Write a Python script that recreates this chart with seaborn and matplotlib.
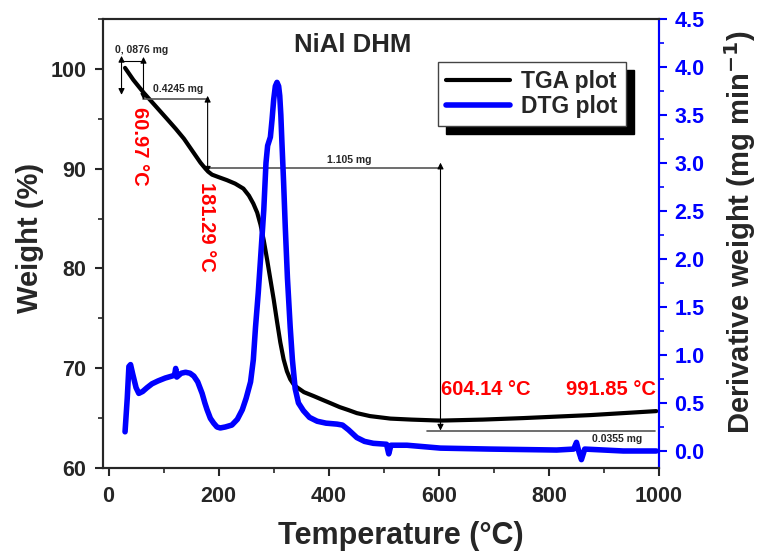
import matplotlib
matplotlib.use("Agg")
import matplotlib.pyplot as plt
import seaborn as sns
import pandas as pd
from matplotlib.ticker import MultipleLocator, FormatStrFormatter
from matplotlib.patches import Rectangle

# TGA curve (weight %)
tga_temp = [30, 45, 64, 85, 106, 122, 137, 152, 167, 176, 181, 188, 200, 215, 230,
            245, 255, 263, 270, 276, 282, 288, 294, 300, 306, 312, 318, 324, 330,
            336, 342, 355, 373, 390, 403, 420, 436, 451, 475, 512, 550, 603, 680,
            753, 875, 995]
tga_weight = [100.1, 98.9, 97.6, 96.3, 95.0, 94.0, 93.0, 91.8, 90.6, 90.0, 89.7,
              89.4, 89.15, 88.85, 88.5, 88.0, 87.3, 86.5, 85.6, 84.4, 82.8, 80.9,
              78.9, 76.9, 74.7, 72.6, 70.9, 69.7, 68.9, 68.4, 68.1, 67.6, 67.2,
              66.8, 66.5, 66.1, 65.8, 65.5, 65.2, 64.95, 64.85, 64.75, 64.85, 65.0,
              65.3, 65.7]

# DTG curve (mg/min)
dtg_temp = [30, 34, 37, 40, 44, 50, 55, 62, 70, 79, 90, 103, 115, 120, 122, 124,
            132, 140, 148, 155, 162, 170, 175, 179, 185, 191, 197, 203, 212, 224,
            234, 243, 250, 258, 263, 267, 272, 276, 282, 286, 289, 294, 297, 300,
            303, 306, 309, 311, 313, 315, 318, 321, 325, 330, 334, 339, 345, 354,
            365, 379, 395, 415, 425, 436, 451, 465, 481, 505, 509, 513, 542, 603,
            693, 814, 845, 850, 855, 859, 865, 935, 995]
dtg_value = [0.20, 0.55, 0.88, 0.90, 0.80, 0.66, 0.60, 0.62, 0.66, 0.70, 0.73,
             0.76, 0.78, 0.79, 0.86, 0.77, 0.81, 0.82, 0.81, 0.78, 0.72, 0.60,
             0.50, 0.43, 0.34, 0.29, 0.25, 0.24, 0.25, 0.27, 0.33, 0.43, 0.55,
             0.72, 0.95, 1.29, 1.65, 1.99, 2.51, 3.00, 3.18, 3.27, 3.45, 3.66,
             3.80, 3.84, 3.80, 3.70, 3.50, 3.21, 2.80, 2.34, 1.80, 1.29, 0.95,
             0.65, 0.50, 0.42, 0.35, 0.31, 0.29, 0.28, 0.27, 0.22, 0.14, 0.10,
             0.08, 0.07, -0.03, 0.06, 0.06, 0.03, 0.02, 0.01, 0.02, 0.09, -0.02,
             -0.09, 0.02, 0.0, 0.0]

sns.set_style("ticks")
plt.rcParams['font.family'] = ['Liberation Sans', 'DejaVu Sans']
plt.rcParams['font.weight'] = 'bold'
plt.rcParams['axes.labelweight'] = 'bold'
plt.rcParams['mathtext.default'] = 'bf'

tga = pd.DataFrame({'T': tga_temp, 'W': tga_weight})
dtg = pd.DataFrame({'T': dtg_temp, 'D': dtg_value})

fig = plt.figure(figsize=(7.57, 5.52), dpi=100)
ax = fig.add_axes([0.1361, 0.1522, 0.7345, 0.8134])
ax2 = ax.twinx()

sns.lineplot(data=tga, x='T', y='W', ax=ax, color='black', lw=3,
             sort=False, estimator=None, legend=False)
sns.lineplot(data=dtg, x='T', y='D', ax=ax2, color='#0000ff', lw=4,
             sort=False, estimator=None, legend=False)

ax.set_xlim(-10, 1000)
ax.set_ylim(60, 105)
ax2.set_ylim(-0.177, 4.5)

ax.xaxis.set_major_locator(MultipleLocator(200))
ax.xaxis.set_minor_locator(MultipleLocator(100))
ax.yaxis.set_major_locator(MultipleLocator(10))
ax.yaxis.set_minor_locator(MultipleLocator(5))
ax2.yaxis.set_major_locator(MultipleLocator(0.5))
ax2.yaxis.set_minor_locator(MultipleLocator(0.25))
ax2.yaxis.set_major_formatter(FormatStrFormatter('%.1f'))

for a in (ax, ax2):
    for s in a.spines.values():
        s.set_linewidth(1.5)
        s.set_visible(True)
    a.tick_params(which='major', direction='out', length=6, width=1.5, labelsize=15.5)
    a.tick_params(which='minor', direction='out', length=3.5, width=1.2)
ax.tick_params(axis='x', which='major', pad=7)
ax.tick_params(axis='y', which='major', pad=6)
ax2.tick_params(axis='y', which='major', pad=5)
ax2.spines['right'].set_color('#0000ff')
ax2.tick_params(axis='y', which='both', colors='#0000ff')
for lab in ax.get_xticklabels() + ax.get_yticklabels() + ax2.get_yticklabels():
    lab.set_fontweight('bold')

ax.set_xlabel('Temperature (°C)', fontsize=22, fontweight='bold')
ax.set_ylabel('Weight (%)', fontsize=21, fontweight='bold')
ax2.set_ylabel('Derivative weight (mg min$^{-1}$)', fontsize=21, fontweight='bold')
ax.xaxis.set_label_coords(0.535, -0.118)
ax.yaxis.set_label_coords(-0.106, 0.513)
ax2.yaxis.set_label_coords(1.113, 0.525)

ax.text(443, 102.4, 'NiAl DHM', fontsize=18.5, fontweight='bold', ha='center', va='center')

# annotations
ak = dict(arrowstyle='<|-|>', color='black', lw=0.8, mutation_scale=9, shrinkA=0, shrinkB=0)
ax.annotate('', xy=(23.6, 97.4), xytext=(23.6, 101.3), arrowprops=ak)
ax.annotate('', xy=(63.5, 96.9), xytext=(63.5, 101.2), arrowprops=ak)
ax.plot([23.6, 63.5], [100.8, 100.8], color='black', lw=0.8)
ax.text(12, 101.9, '0, 0876 mg', fontsize=7.5, fontweight='bold', ha='left', va='center')

ax.plot([63.5, 181], [97.0, 97.0], color='#555555', lw=1.2)
ax.annotate('', xy=(180, 89.6), xytext=(180, 97.3), arrowprops=ak)
ax.text(80, 98.0, '0.4245 mg', fontsize=7.5, fontweight='bold', ha='left', va='center')

ax.plot([181, 603], [90.05, 90.05], color='#555555', lw=1.2)
ax.annotate('', xy=(603, 63.75), xytext=(603, 90.6), arrowprops=ak)
ax.text(437, 90.9, '1.105 mg', fontsize=7.5, fontweight='bold', ha='center', va='center')

ax.plot([579, 993], [63.75, 63.75], color='#555555', lw=1.2)
ax.text(924, 62.9, '0.0355 mg', fontsize=7.5, fontweight='bold', ha='center', va='center')

red = dict(color='#ff0000', fontsize=14.5, fontweight='bold')
ax.text(56, 92.2, '60.97 °C', rotation=-90, ha='center', va='center', **red)
ax.text(178, 84.2, '181.29 °C', rotation=-90, ha='center', va='center', **red)
ax.text(604, 67.9, '604.14 °C', ha='left', va='center', **red)
ax.text(995, 67.9, '991.85 °C', ha='right', va='center', **red)

handles = ax.get_lines()[:1] + ax2.get_lines()[:1]
leg = ax2.legend(handles, ['TGA plot', 'DTG plot'], loc='upper right',
                 bbox_to_anchor=(0.94, 0.904), fontsize=16.5, frameon=True,
                 fancybox=False, framealpha=1, handlelength=2.8, borderpad=0.35,
                 labelspacing=0.1, handletextpad=0.5, borderaxespad=0)
leg.get_frame().set_edgecolor('#444444')
leg.get_frame().set_linewidth(1.0)
for t in leg.get_texts():
    t.set_fontweight('bold')

fig.canvas.draw()
bb = leg.get_window_extent().transformed(ax2.transAxes.inverted())
dx = 8 / (ax2.bbox.width)
dy = 8 / (ax2.bbox.height)
ax2.add_patch(Rectangle((bb.x0 + dx, bb.y0 - dy), bb.width, bb.height,
                        transform=ax2.transAxes, color='black', zorder=4.9,
                        clip_on=False))

fig.savefig('out.png', dpi=100)
